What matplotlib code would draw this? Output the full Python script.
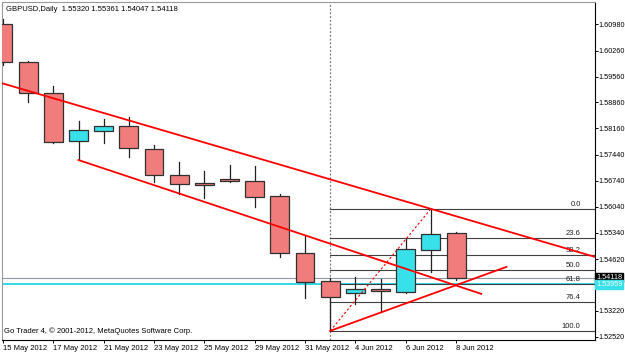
import matplotlib
matplotlib.use('Agg')
import matplotlib.pyplot as plt
import matplotlib.transforms as mtransforms
from matplotlib.patches import Rectangle

plt.rcParams['font.family'] = ['Liberation Sans', 'DejaVu Sans']

# daily candles GBPUSD, 15 May - 8 Jun 2012
dates = ['15 May 2012', '16 May 2012', '17 May 2012', '18 May 2012', '21 May 2012',
         '22 May 2012', '23 May 2012', '24 May 2012', '25 May 2012', '28 May 2012',
         '29 May 2012', '30 May 2012', '31 May 2012', '1 Jun 2012', '4 Jun 2012',
         '5 Jun 2012', '6 Jun 2012', '7 Jun 2012', '8 Jun 2012']
opens  = [1.6098, 1.5995, 1.5911, 1.5782, 1.5809, 1.5822, 1.5760, 1.5690, 1.5668, 1.5679,
          1.5673, 1.5633, 1.5479, 1.5403, 1.5370, 1.5381, 1.5373, 1.5487, 1.55320]
highs  = [1.6112, 1.5997, 1.5930, 1.5836, 1.5841, 1.5846, 1.5771, 1.5725, 1.5700, 1.5717,
          1.5714, 1.5638, 1.5525, 1.5410, 1.5414, 1.5408, 1.5516, 1.5598, 1.55361]
lows   = [1.5987, 1.5887, 1.5776, 1.5730, 1.5776, 1.5738, 1.5671, 1.5638, 1.5627, 1.5671,
          1.5603, 1.5468, 1.5357, 1.5268, 1.5341, 1.5319, 1.5371, 1.5427, 1.54047]
closes = [1.5995, 1.5911, 1.5779, 1.5811, 1.5822, 1.5763, 1.5690, 1.5665, 1.5662, 1.5673,
          1.5630, 1.5479, 1.5400, 1.5360, 1.5381, 1.5376, 1.5489, 1.5530, 1.54118]

price_ticks = [1.60980, 1.60260, 1.59560, 1.58860, 1.58160, 1.57440, 1.56740,
               1.56040, 1.55340, 1.54620, 1.53220, 1.52520]
bid = 1.54118
cyan_level = 1.53959

# fibo from 1 Jun low to 7 Jun high
fib_levels = [0.0, 23.6, 38.2, 50.0, 61.8, 76.4, 100.0]
fib_lo_bar, fib_hi_bar = 13, 17

# trendlines (bar index, price)
upper_line = [(0, 1.5937), (17, 1.5598)]
lower_line = [(3, 1.5730), (19, 1.5368)]
rising_line = [(13, 1.5268), (20, 1.5441)]

fig = plt.figure(figsize=(6.25, 3.53), dpi=100)
fig.set_facecolor('white')
ax = fig.add_axes([0.0032, 0.0368, 0.9488, 0.9575])
ax.set_xlim(-0.04, 23.52)
ax.set_ylim(1.52432, 1.61575)

bull = '#38e0ea'
bear = '#f07c7c'
w = 0.75
for i in range(len(opens)):
    o, h, l, c = opens[i], highs[i], lows[i], closes[i]
    ax.plot([i, i], [l, h], color='#202020', lw=0.9, zorder=2)
    bot = min(o, c)
    ht = max(abs(c - o), 0.00012)
    col = bull if c > o else bear
    ax.add_patch(Rectangle((i - w / 2, bot), w, ht, facecolor=col,
                           edgecolor='#303030', lw=0.9, zorder=3))

# full width lines
ax.axhline(bid, color='#8a9aaa', lw=0.8, zorder=1)
ax.axhline(cyan_level, color='#30d8e8', lw=1.4, zorder=1)
ax.axvline(fib_lo_bar, color='#777777', lw=0.9, ls=(0, (1.5, 1.5)), zorder=1)

# fibonacci
f_hi = highs[fib_hi_bar]
f_lo = lows[fib_lo_bar]
x1 = ax.get_xlim()[1]
for lev in fib_levels:
    p = f_hi - (f_hi - f_lo) * lev / 100.0
    ax.plot([fib_lo_bar, x1], [p, p], color='#404040', lw=0.8, zorder=1)
    ax.text(22.95, p + 0.0003, '%.1f' % lev, ha='right', va='bottom',
            fontsize=5.5, color='#202020')
ax.plot([fib_lo_bar, fib_hi_bar], [f_lo, f_hi], color='red', lw=0.8,
        ls=(0, (2, 2)), zorder=4)

# trend lines
(xa, ya), (xb, yb) = upper_line
k = (yb - ya) / (xb - xa)
x0 = ax.get_xlim()[0]
ax.plot([x0, x1], [ya + k * (x0 - xa), ya + k * (x1 - xa)], color='red', lw=1.3, zorder=4)
for seg in (lower_line, rising_line):
    ax.plot([seg[0][0], seg[1][0]], [seg[0][1], seg[1][1]], color='red', lw=1.3, zorder=4)

# axes look
for s in ('left', 'top'):
    ax.spines[s].set_color('#999999')
    ax.spines[s].set_linewidth(0.8)
for s in ('right', 'bottom'):
    ax.spines[s].set_color('black')
    ax.spines[s].set_linewidth(0.8)
ax.yaxis.tick_right()
ax.set_yticks(price_ticks)
ax.set_yticklabels(['%.5f' % t for t in price_ticks])
ax.tick_params(axis='y', direction='out', length=2, width=0.7, pad=0.6,
               labelsize=5.2, colors='black')
xt = list(range(0, len(dates), 2))
ax.set_xticks(xt)
ax.set_xticklabels([dates[i] for i in xt], ha='left')
ax.tick_params(axis='x', direction='out', length=2.5, width=0.7, pad=0.8,
               labelsize=5.5)

trans = mtransforms.blended_transform_factory(ax.transAxes, ax.transData)
ax.text(1.002, bid + 0.0001, '%.5f' % bid, transform=trans, fontsize=5.2, color='white',
        va='center', ha='left',
        bbox=dict(boxstyle='square,pad=0.1', fc='black', ec='black'))
ax.text(1.002, cyan_level - 0.0003, '%.5f' % cyan_level, transform=trans, fontsize=5.2,
        color='white', va='center', ha='left',
        bbox=dict(boxstyle='square,pad=0.1', fc=bull, ec=bull))

ax.text(0.006, 0.977, 'GBPUSD,Daily  1.55320 1.55361 1.54047 1.54118',
        transform=ax.transAxes, fontsize=5.5, va='center', ha='left')
ax.text(0.003, 0.025, 'Go Trader 4, \u00a9 2001-2012, MetaQuotes Software Corp.',
        transform=ax.transAxes, fontsize=5.5, va='center', ha='left')

fig.savefig('out.png', dpi=100)
